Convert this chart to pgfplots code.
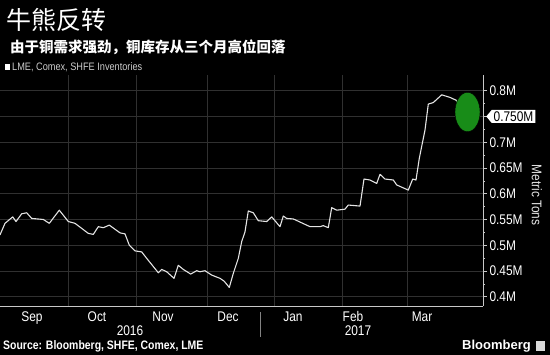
\documentclass[border=0pt]{standalone}
\usepackage{pgfplots}
\pgfplotsset{compat=1.18}
\usetikzlibrary{shapes.symbols}
\usepackage{fontspec}
\setmainfont{Liberation Sans}[FakeStretch=0.85]
\newfontfamily\plainfont{Liberation Sans}
\newfontfamily\cjk{Noto Sans CJK SC}
\definecolor{gridc}{RGB}{48,48,48}
\definecolor{linec}{RGB}{228,228,228}
\definecolor{hl}{RGB}{24,140,24}
\definecolor{axc}{RGB}{200,200,200}
\begin{document}
\begin{tikzpicture}[x=1pt,y=1pt]
\useasboundingbox (0,0) rectangle (550,355);
\fill[black] (0,0) rectangle (550,355);
\begin{axis}[at={(0pt,49pt)}, anchor=south west, width=483pt, height=231pt, scale only axis,
  xmin=0, xmax=483, ymin=0.382, ymax=0.8305,
  axis x line*=bottom, axis y line*=right,
  axis line style={axc, line width=0.8pt, -},
  ytick={0.4,0.45,0.5,0.55,0.6,0.65,0.7,0.75,0.8},
  yticklabels={0.4M,0.45M,0.5M,0.55M,0.6M,0.65M,0.7M,,0.8M},
  minor y tick num=1,
  ymajorgrids, major grid style={gridc, line width=0.8pt},
  y tick style={axc, line width=0.6pt},
  tick align=outside, major tick length=4pt, minor tick length=2pt,
  yticklabel style={font=\fontsize{14}{14}\selectfont, text=white, xshift=-1pt},
  xtick={32,97,163,228,293,353,422},
  xticklabels={Sep,Oct,Nov,Dec,Jan,Feb,Mar},
  x tick style={draw=none},
  xticklabel style={font=\fontsize{14}{14}\selectfont, text=white, yshift=2pt},
  extra x ticks={68,136,207,274,342,407},
  extra x tick labels={},
  extra x tick style={grid=major, major grid style={gridc, line width=0.8pt}, tick style={draw=axc, line width=0.6pt}, major tick length=3pt},
  clip=false,
]
\addplot[only marks, mark=*, mark size=19.7, mark options={xscale=0.635, fill=hl, draw=none}] coordinates {(467.5,0.7586)};
\addplot[linec, line width=1.1pt, line join=round] coordinates {
(0,0.520) (5,0.5425) (12.7,0.555) (16,0.546) (21.7,0.561) (26.7,0.563) (31.7,0.552)
(43.3,0.550) (49.3,0.5425) (59.3,0.568) (68.3,0.546) (75,0.5425) (88.3,0.523) (93.3,0.521)
(98.3,0.536) (103.3,0.534) (109.3,0.539) (115,0.531) (120,0.524) (125,0.522) (129.3,0.500)
(135,0.489) (141.7,0.487) (146.7,0.4745) (158.3,0.4466) (161.7,0.453) (166.7,0.4485)
(174,0.4357) (178.3,0.461) (183.3,0.453) (190.7,0.444) (196.7,0.4505) (200,0.4485)
(205,0.4505) (211.7,0.442) (220,0.4357) (224,0.4305) (229.3,0.418) (233.3,0.4454)
(238.3,0.4745) (241.7,0.507) (245,0.526) (248.3,0.5665) (253.3,0.563) (258.3,0.5476)
(266.7,0.546) (271.7,0.555) (280,0.536) (283.3,0.5567) (286.7,0.552) (293.3,0.551)
(310,0.536) (320,0.536) (323.3,0.538) (328.3,0.534) (331.7,0.573) (336.7,0.568)
(345,0.570) (348.3,0.578) (360,0.576) (364,0.6285) (370,0.6266) (376.7,0.620)
(380,0.6377) (385,0.6285) (393.3,0.6266) (396.7,0.617) (408.3,0.607) (412.7,0.6285)
(416,0.6266) (419.3,0.6687) (425,0.7237) (428.3,0.774) (433.3,0.777) (441.7,0.792)
(450,0.787) (456.7,0.781)
};
\addplot[green!30!white, line width=1.1pt, line join=round] coordinates {
(456.7,0.781) (460,0.759) (463.3,0.756) (470,0.753)
};
\coordinate (lab) at (axis cs:483,0.75);
\end{axis}
\node[signal, signal to=west, signal pointer angle=100, fill=white, text=black, inner xsep=2pt, inner ysep=1.5pt, anchor=west, font=\fontsize{14}{14}\selectfont] at ([xshift=3pt]lab) {0.750M};
% titles
\node[anchor=west, text=white, inner sep=0pt] at (6,335) {\cjk\fontsize{25}{25}\selectfont 牛熊反转};
\node[anchor=west, text=white, inner sep=0pt] at (10,308) {\cjk\bfseries\fontsize{14.5}{14.5}\selectfont 由于铜需求强劲，铜库存从三个月高位回落};
\fill[white] (5,285) rectangle (10,290.5);
\node[anchor=west, text=white!80!black, inner sep=0pt] at (12,288) {\fontsize{10.8}{10.8}\selectfont LME, Comex, SHFE Inventories};
\node[rotate=-90, text=white!90!black, inner sep=0pt] at (537,160) {\fontsize{14}{14}\selectfont Metric Tons};
% years
\node[text=white, inner sep=0pt] at (130,24) {\fontsize{14}{14}\selectfont 2016};
\node[text=white, inner sep=0pt] at (358,24) {\fontsize{14}{14}\selectfont 2017};
\draw[gridc!60!white, line width=0.8pt] (260,43) -- (260,18);
% footer
\node[anchor=west, text=white, inner sep=0pt] at (3,9) {\bfseries\fontsize{12.3}{12.3}\selectfont Source: Bloomberg, SHFE, Comex, LME};
\node[anchor=east, text=white, inner sep=0pt] at (531,9) {\plainfont\bfseries\fontsize{13}{13}\selectfont Bloomberg};
\fill[white!85!black] (536,4) rectangle (545,14);
\end{tikzpicture}
\end{document}
